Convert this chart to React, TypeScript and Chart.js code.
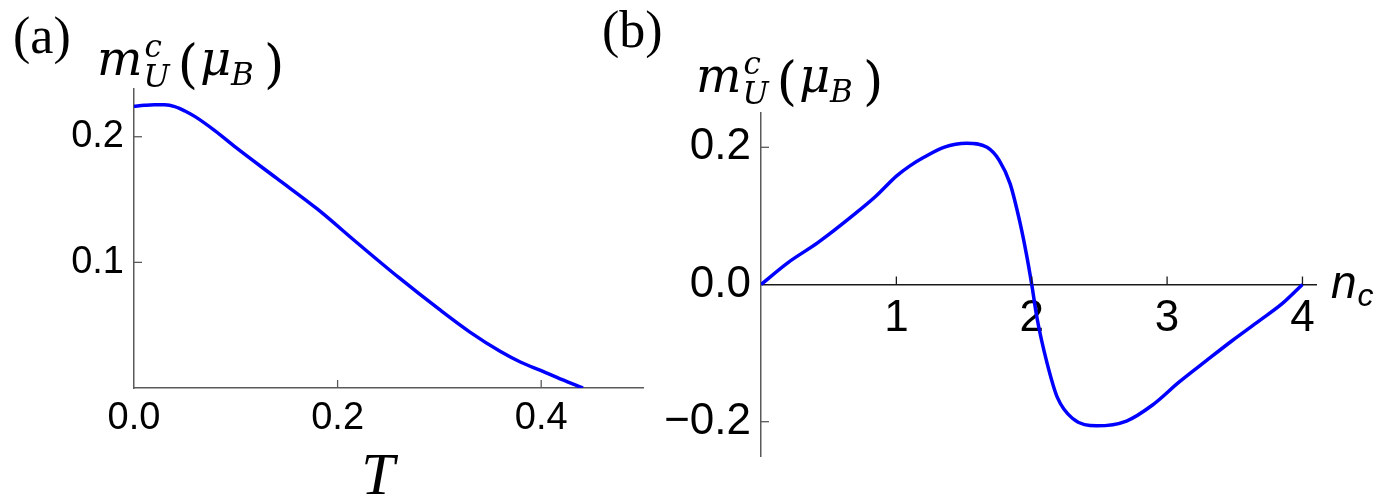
import React, { useEffect, useRef } from 'react';
import { Chart, registerables } from 'chart.js';

Chart.register(...registerables);

// Panel (a): m_U^c vs T
const tA = [0, 0.01, 0.02, 0.03, 0.04, 0.05, 0.06, 0.08, 0.10, 0.14, 0.18, 0.22, 0.26, 0.30, 0.33, 0.36, 0.38, 0.40, 0.42, 0.441];
const mA = [0.2242, 0.2250, 0.2255, 0.2254, 0.2240, 0.2205, 0.2160, 0.2045, 0.1915, 0.1670, 0.1425, 0.1150, 0.0880, 0.0625, 0.0445, 0.0290, 0.0205, 0.0138, 0.0068, 0.0];
const xTicksA = [0, 0.2, 0.4];
const xTickLabelsA = ['0.0', '0.2', '0.4'];
const yTicksA = [0.1, 0.2];
const yTickLabelsA = ['0.1', '0.2'];

// Panel (b): m_U^c vs n_c
const ncB = [0, 0.2, 0.42, 0.70, 0.85, 1.0, 1.1, 1.2, 1.35, 1.52, 1.67, 1.76, 1.84, 1.91, 1.96, 2.0,
  2.04, 2.11, 2.19, 2.30, 2.48, 2.70, 2.89, 3.09, 3.29, 3.48, 3.68, 3.85, 4.0];
const mB = [0, 0.032, 0.061, 0.104, 0.129, 0.158, 0.173, 0.185, 0.200, 0.206, 0.200, 0.181, 0.147, 0.093, 0.045, 0,
  -0.050, -0.112, -0.165, -0.195, -0.206, -0.199, -0.176, -0.142, -0.111, -0.082, -0.053, -0.028, 0];
const xTicksB = [1, 2, 3, 4];
const xTickLabelsB = ['1', '2', '3', '4'];
const yTicksB = [-0.2, 0, 0.2];
const yTickLabelsB = ['\u22120.2', '0.0', '0.2'];

const W = 1388;
const H = 501;

function drawTitle(ctx: CanvasRenderingContext2D, x: number, base: number) {
  const big = 'italic 48px "DejaVu Serif"';
  const par = '52px "DejaVu Serif"';
  const small = 'italic 31px "DejaVu Serif"';
  ctx.fillStyle = '#000';
  ctx.textBaseline = 'alphabetic';
  ctx.textAlign = 'left';
  ctx.font = big;
  ctx.fillText('m', x, base);
  let cx = x + ctx.measureText('m').width + 1;
  ctx.font = small;
  ctx.fillText('c', cx + 1, base - 18);
  const wc = ctx.measureText('c').width;
  ctx.fillText('U', cx, base + 12);
  const wu = ctx.measureText('U').width;
  cx += Math.max(wc, wu) + 8;
  ctx.font = par;
  ctx.fillText('(', cx, base + 7);
  cx += ctx.measureText('(').width + 2;
  ctx.font = big;
  ctx.fillText('\u03bc', cx, base);
  cx += ctx.measureText('\u03bc').width;
  ctx.font = small;
  ctx.fillText('B', cx, base + 10);
  cx += ctx.measureText('B').width + 10;
  ctx.font = par;
  ctx.fillText(')', cx, base + 7);
}

function makePlugin(
  xTicks: number[], yTicks: number[], xColor: string, yColor: string,
  extra: (ctx: CanvasRenderingContext2D) => void
) {
  return {
    id: 'innerTicks',
    afterDraw(chart: any) {
      const ctx: CanvasRenderingContext2D = chart.ctx;
      const xs = chart.scales.x;
      const ys = chart.scales.y;
      const axisY = ys.getPixelForValue(0);
      const axisX = xs.getPixelForValue(0);
      ctx.save();
      ctx.lineWidth = 1.3;
      ctx.strokeStyle = xColor;
      xTicks.forEach((v) => {
        const p = xs.getPixelForValue(v);
        if (Math.abs(p - axisX) < 1) return;
        ctx.beginPath();
        ctx.moveTo(p, axisY);
        ctx.lineTo(p, axisY - 8);
        ctx.stroke();
      });
      ctx.strokeStyle = yColor;
      yTicks.forEach((v) => {
        const p = ys.getPixelForValue(v);
        if (Math.abs(p - axisY) < 1) return;
        ctx.beginPath();
        ctx.moveTo(axisX, p);
        ctx.lineTo(axisX + 8, p);
        ctx.stroke();
      });
      extra(ctx);
      ctx.restore();
    },
  };
}

export default function App() {
  const refA = useRef<HTMLCanvasElement | null>(null);
  const refB = useRef<HTMLCanvasElement | null>(null);

  useEffect(() => {
    if (!refA.current || !refB.current) return;

    const tickFontA = { family: '"Liberation Sans", Arial, sans-serif', size: 38 };
    const tickFontB = { family: '"Liberation Sans", Arial, sans-serif', size: 44 };

    const chartA = new Chart(refA.current, {
      type: 'scatter',
      data: {
        datasets: [{
          data: tA.map((t, i) => ({ x: t, y: mA[i] })),
          showLine: true,
          borderColor: '#0000ff',
          borderWidth: 3.5,
          pointRadius: 0,
          cubicInterpolationMode: 'monotone',
          fill: false,
        }],
      },
      options: {
        animation: false,
        responsive: false,
        devicePixelRatio: 1,
        layout: { padding: { left: 0, top: 89, right: W - 643, bottom: 0 } },
        plugins: { legend: { display: false }, tooltip: { enabled: false } },
        scales: {
          x: {
            type: 'linear', min: 0, max: 0.5,
            grid: { display: false },
            border: { display: true, color: '#5a5a5a', width: 1.5 },
            afterFit: (s: any) => { s.height = H - 388; },
            afterBuildTicks: (s: any) => { s.ticks = xTicksA.map((v) => ({ value: v })); },
            ticks: {
              color: '#000', font: tickFontA, padding: 0, maxRotation: 0,
              callback: (v: any) => { const i = xTicksA.indexOf(Number(v)); return i >= 0 ? xTickLabelsA[i] : ''; },
            },
          },
          y: {
            type: 'linear', min: 0, max: 0.238,
            grid: { display: false },
            border: { display: true, color: '#5a5a5a', width: 1.5 },
            afterFit: (s: any) => { s.width = 134; },
            afterBuildTicks: (s: any) => { s.ticks = yTicksA.map((v) => ({ value: v })); },
            ticks: {
              color: '#000', font: tickFontA, padding: 2,
              callback: (v: any) => { const i = yTicksA.indexOf(Number(v)); return i >= 0 ? yTickLabelsA[i] : ''; },
            },
          },
        },
      },
      plugins: [makePlugin(xTicksA, yTicksA, '#5a5a5a', '#5a5a5a', (ctx) => {
        ctx.fillStyle = '#000';
        ctx.textAlign = 'left';
        ctx.textBaseline = 'alphabetic';
        ctx.font = '52px "Liberation Serif", serif';
        ctx.fillText('(a)', 13, 53);
        drawTitle(ctx, 97, 75);
        ctx.font = 'italic 60px "Liberation Serif", serif';
        ctx.textAlign = 'center';
        ctx.fillText('T', 378, 494);
      })],
    } as any);

    const chartB = new Chart(refB.current, {
      type: 'scatter',
      data: {
        datasets: [{
          data: ncB.map((n, i) => ({ x: n, y: mB[i] })),
          showLine: true,
          borderColor: '#0000ff',
          borderWidth: 3.5,
          pointRadius: 0,
          cubicInterpolationMode: 'monotone',
          fill: false,
        }],
      },
      options: {
        animation: false,
        responsive: false,
        devicePixelRatio: 1,
        layout: { padding: { left: 0, top: 113, right: W - 1316, bottom: H - 456 } },
        plugins: { legend: { display: false }, tooltip: { enabled: false } },
        scales: {
          x: {
            type: 'linear', min: 0, max: 4.1,
            position: { y: 0 },
            grid: { display: false },
            border: { display: true, color: '#1a1a1a', width: 1.6 },
            afterFit: (s: any) => { s.height = 0; },
            afterBuildTicks: (s: any) => { s.ticks = xTicksB.map((v) => ({ value: v })); },
            ticks: {
              color: '#000', font: tickFontB, padding: 0, maxRotation: 0,
              callback: (v: any) => { const i = xTicksB.indexOf(Number(v)); return i >= 0 ? xTickLabelsB[i] : ''; },
            },
          },
          y: {
            type: 'linear', min: -0.25, max: 0.25,
            position: 'left',
            grid: { display: false },
            border: { display: true, color: '#5a5a5a', width: 1.5 },
            afterFit: (s: any) => { s.width = 761; },
            afterBuildTicks: (s: any) => { s.ticks = yTicksB.map((v) => ({ value: v })); },
            ticks: {
              color: '#000', font: tickFontB, padding: 2,
              callback: (v: any) => {
                const i = yTicksB.findIndex((t) => Math.abs(t - Number(v)) < 1e-9);
                return i >= 0 ? yTickLabelsB[i] : '';
              },
            },
          },
        },
      },
      plugins: [makePlugin(xTicksB, yTicksB, '#1a1a1a', '#5a5a5a', (ctx) => {
        ctx.fillStyle = '#000';
        ctx.textAlign = 'left';
        ctx.textBaseline = 'alphabetic';
        ctx.font = '52px "Liberation Serif", serif';
        ctx.fillText('(b)', 602, 47);
        drawTitle(ctx, 696, 92);
        ctx.font = 'italic 46px "Liberation Sans", Arial, sans-serif';
        ctx.fillText('n', 1331, 298);
        const wn = ctx.measureText('n').width;
        ctx.font = 'italic 32px "Liberation Sans", Arial, sans-serif';
        ctx.fillText('c', 1331 + wn + 1, 306);
      })],
    } as any);

    return () => {
      chartA.destroy();
      chartB.destroy();
    };
  }, []);

  const cs: React.CSSProperties = { position: 'absolute', left: 0, top: 0, width: W, height: H };
  return (
    <div style={{ position: 'absolute', left: 0, top: 0, width: W, height: H, background: '#fff' }}>
      <canvas ref={refA} width={W} height={H} style={cs} />
      <canvas ref={refB} width={W} height={H} style={cs} />
    </div>
  );
}
